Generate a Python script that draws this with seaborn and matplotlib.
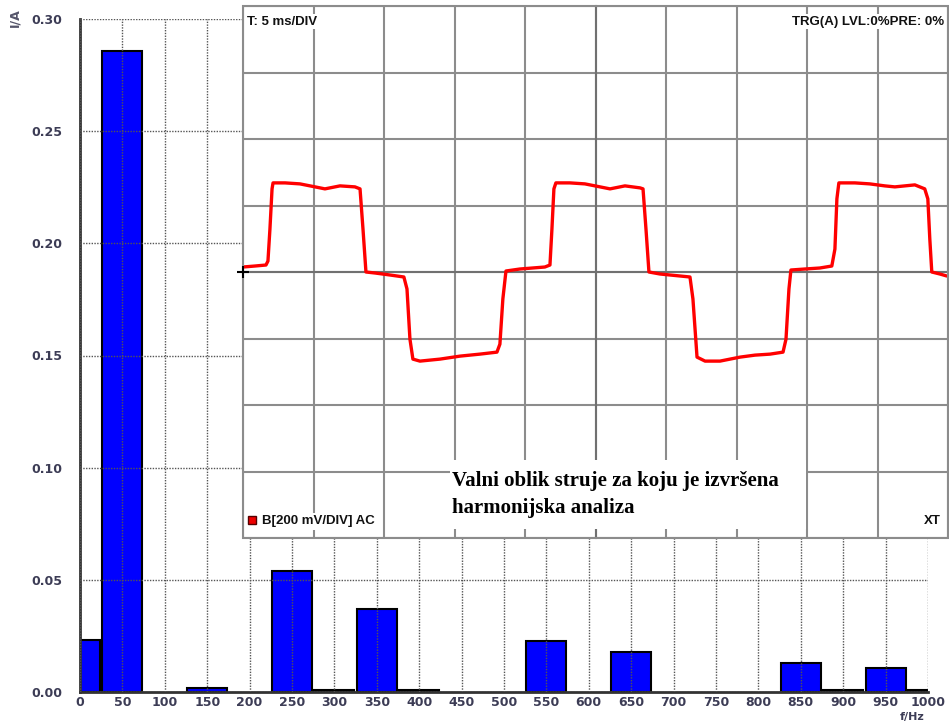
import matplotlib
matplotlib.use("Agg")
import matplotlib.pyplot as plt
import seaborn as sns
from matplotlib.patches import Rectangle
from matplotlib.ticker import MultipleLocator

# harmonijski spektar struje (harmonici bez vidljive vrijednosti izostavljeni)
freq_hz = [0, 50, 150, 250, 300, 350, 400, 550, 650, 850, 900, 950, 1000]
struja_a = [0.0232, 0.2858, 0.0018, 0.054, 0.0008, 0.037, 0.0008,
            0.0228, 0.0179, 0.013, 0.001, 0.0107, 0.001]

x_ticks = list(range(0, 1001, 50))
y_ticks = [0.00, 0.05, 0.10, 0.15, 0.20, 0.25, 0.30]

# valni oblik sa osciloskopa (t u ms, u u mV)
t_ms = [0.00, 0.85, 1.63, 1.77, 1.91, 2.06, 2.13, 2.98, 4.04, 5.11, 5.81, 6.88, 7.94, 8.30,
        8.51, 8.72, 9.36, 10.42, 11.41, 11.63, 11.84, 12.05, 12.55, 13.97, 15.39, 16.80,
        18.01, 18.22, 18.43, 18.65, 19.64, 21.41, 21.77, 21.91, 22.05, 22.19,
        23.18, 24.25, 25.32, 26.03, 27.09, 28.16, 28.37, 28.58, 28.79, 29.57, 30.99,
        31.70, 31.91, 32.20, 32.77, 33.83, 35.25, 36.31, 37.38, 38.30, 38.51, 38.72,
        38.86, 39.85, 40.91, 41.76, 41.98, 42.12, 42.26, 43.39, 44.45, 45.52, 46.23,
        46.94, 47.65, 48.35, 48.57, 48.71, 48.85, 49.42, 49.91]
u_mv = [15, 18, 21, 33, 129, 250, 268, 268, 265, 256, 250, 259, 256, 250,
        129, 0, -3, -9, -15, -51, -202, -262, -268, -262, -253, -247,
        -241, -217, -81, 3, 9, 15, 21, 129, 250, 268,
        268, 265, 256, 250, 259, 253, 250, 129, 0, -6, -12,
        -15, -81, -256, -268, -268, -256, -250, -247, -241, -202, -51,
        6, 9, 12, 18, 69, 220, 268, 268, 265, 259, 256,
        259, 262, 250, 220, 99, 0, -6, -12]

sns.set_style("white")
plt.rcParams["font.family"] = ["DejaVu Sans"]

fig = plt.figure(figsize=(9.49, 7.22), dpi=100)
ax = fig.add_axes([80 / 949, 30 / 722, 848 / 949, 673 / 722])

sns.barplot(x=freq_hz, y=struja_a, native_scale=True, width=0.94, color="#0000ff",
            saturation=1, edgecolor="black", linewidth=1.5, errorbar=None, ax=ax)

ax.set_xlim(0, 1000)
ax.set_ylim(0, 0.30)
ax.set_xticks(x_ticks)
ax.set_xticklabels([str(v) for v in x_ticks])
ax.set_yticks(y_ticks)
ax.set_yticklabels([f"{v:.2f}" for v in y_ticks])
ax.set_xlabel("")
ax.set_ylabel("")
ax.set_axisbelow(False)
ax.grid(True, color="#555555", linestyle=(0, (1, 1)), linewidth=1)
for s in ["top", "right"]:
    ax.spines[s].set_visible(False)
for s in ["left", "bottom"]:
    ax.spines[s].set_color("#333333")
    ax.spines[s].set_linewidth(2)
ax.tick_params(axis="both", colors="#333333", labelcolor="#3c3c55", labelsize=9,
               length=5, width=1.5, direction="out")
ax.tick_params(axis="y", pad=8)
ax.tick_params(axis="x", length=3, pad=0)
for lbl in ax.get_xticklabels() + ax.get_yticklabels():
    lbl.set_fontweight("bold")

fig.text(15 / 949, 1 - 8 / 722, "I/A", rotation=90, ha="center", va="top",
         fontsize=9, fontweight="bold", color="#55556a")
fig.text(912 / 949, 0.0, "f/Hz", ha="center", va="bottom",
         fontsize=8, fontweight="bold", color="#3c3c55")

# umetnuti osciloskop
ax_in = fig.add_axes([243 / 949, 184 / 722, 705 / 949, 532 / 722])
ax_in.set_facecolor("white")
ax_in.set_xlim(0, 50)
ax_in.set_ylim(-800, 800)
ax_in.set_xticks(range(0, 51, 5))
ax_in.set_yticks(range(-800, 801, 200))
ax_in.set_xticklabels([])
ax_in.set_yticklabels([])
ax_in.grid(True, color="#8c8c8c", linewidth=1.5)
ax_in.xaxis.set_minor_locator(MultipleLocator(1))
ax_in.yaxis.set_minor_locator(MultipleLocator(40))
ax_in.tick_params(which="major", length=0)
ax_in.tick_params(which="minor", length=6, width=1.2, color="#707070", direction="inout")
ax_in.spines["left"].set_position(("data", 25))
ax_in.spines["bottom"].set_position(("data", 0))
for s in ["left", "bottom"]:
    ax_in.spines[s].set_color("#707070")
    ax_in.spines[s].set_linewidth(1.5)
for s in ["top", "right"]:
    ax_in.spines[s].set_visible(False)
ax_in.add_patch(Rectangle((0, 0), 1, 1, transform=ax_in.transAxes, fill=False,
                          edgecolor="#8c8c8c", linewidth=1.5, clip_on=False, zorder=5))

sns.lineplot(x=t_ms, y=u_mv, ax=ax_in, color="#ff0000", linewidth=2.4,
             sort=False, estimator=None, zorder=4)
ax_in.set_xlabel("")
ax_in.set_ylabel("")
ax_in.plot(0, 0, "+", color="black", markersize=9, markeredgewidth=1.5,
           clip_on=False, zorder=6)

# natpisi osciloskopa
lbl_font = dict(family=["Liberation Sans Narrow", "Liberation Sans", "DejaVu Sans"],
                fontsize=9.5, fontweight="bold", color="#111111")
ax_in.text(0.006, 0.982, "T: 5 ms/DIV", transform=ax_in.transAxes, ha="left", va="top",
           bbox=dict(facecolor="white", edgecolor="none", pad=1), zorder=7, **lbl_font)
ax_in.text(0.995, 0.982, "TRG(A) LVL:0%PRE: 0%", transform=ax_in.transAxes, ha="right",
           va="top", bbox=dict(facecolor="white", edgecolor="none", pad=1), zorder=7,
           **lbl_font)
ax_in.text(0.027, 0.02, "B[200 mV/DIV] AC", transform=ax_in.transAxes, ha="left",
           va="bottom", bbox=dict(facecolor="white", edgecolor="none", pad=2), zorder=7,
           **lbl_font)
ax_in.plot(0.013, 0.034, "s", transform=ax_in.transAxes, color="#ee0000",
           markeredgecolor="#550000", markersize=6, zorder=8, clip_on=False)
ax_in.text(0.99, 0.02, "XT", transform=ax_in.transAxes, ha="right", va="bottom",
           bbox=dict(facecolor="white", edgecolor="none", pad=1), zorder=7, **lbl_font)

ax_in.add_patch(Rectangle((0.2936, 0.017), 0.505, 0.13, transform=ax_in.transAxes,
                          facecolor="white", edgecolor="none", zorder=6))
ax_in.text(0.2965, 0.126, "Valni oblik struje za koju je izvršena\nharmonijska analiza",
           transform=ax_in.transAxes, ha="left", va="top", fontsize=15,
           fontweight="bold", family=["Liberation Serif", "DejaVu Serif"],
           color="black", linespacing=1.45, zorder=7)

fig.savefig("out.png", dpi=100)
